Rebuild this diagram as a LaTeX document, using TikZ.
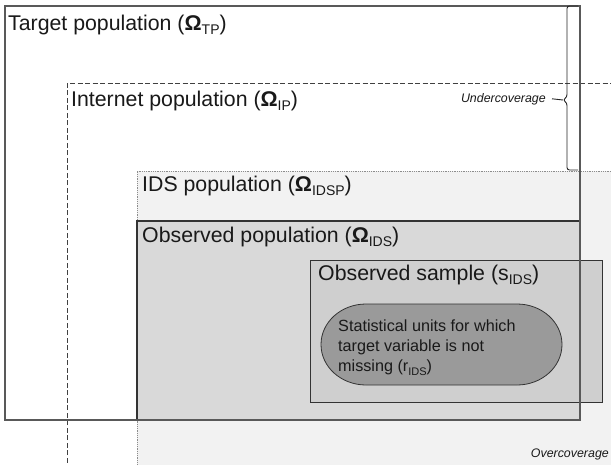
\documentclass[tikz,border=0pt]{standalone}
\usepackage{fontspec}
\setmainfont{Liberation Sans}
\definecolor{idsfill}{HTML}{F2F2F2}
\definecolor{popfill}{HTML}{D9D9D9}
\definecolor{samplefill}{HTML}{CFCFCF}
\definecolor{unitfill}{HTML}{9A9A9A}
\newcommand{\lowsub}[1]{\raisebox{-4.5pt}{\fontsize{14}{15}\selectfont #1}}
\newcommand{\smallsub}[1]{\raisebox{-3.5pt}{\fontsize{11}{12}\selectfont #1}}
\begin{document}
\begin{tikzpicture}[x=1pt,y=-1pt,
  lbl/.style={font=\fontsize{21.3}{25}\selectfont, anchor=base west, inner sep=0pt, text=black!90},
  note/.style={font=\fontsize{12.4}{14}\selectfont\itshape, inner sep=0pt, anchor=base east, text=black!90},
  targetline/.style={draw=black!65, line width=1.3pt},
  internetline/.style={draw=black!75, line width=0.9pt, dash pattern=on 5pt off 2.5pt},
  idsline/.style={draw=black!45, line width=0.8pt, dash pattern=on 0.9pt off 0.9pt},
  popbox/.style={fill=popfill, draw=black!80, line width=1.1pt},
  samplebox/.style={fill=samplefill, draw=black!80, line width=0.8pt},
  unitbox/.style={fill=unitfill, draw=black!80, line width=0.8pt},
  bracestyle/.style={draw=black!85, line width=0.9pt, rounded corners=2.5pt}
]
\clip (0,0) rectangle (611,464);
\fill[white] (0,0) rectangle (611,464);
% IDS population (extends beyond the picture)
\fill[idsfill] (137,171) rectangle (620,470);
\draw[idsline] (137,470) -- (137,171) -- (620,171);
% Observed population
\draw[popbox] (137,221) rectangle (580,420);
% Observed sample
\draw[samplebox] (310,260) rectangle (602,402);
% Units with non-missing target variable
\draw[unitbox] (366,304) -- (517,304) arc[start angle=-90, end angle=90, x radius=45, y radius=40.5]
  -- (366,385) arc[start angle=90, end angle=270, x radius=45, y radius=40.5] -- cycle;
% Internet population (extends beyond the picture)
\draw[internetline] (67,470) -- (67,83) -- (620,83);
% Target population
\draw[targetline] (5,6) rectangle (580,420);
% Brace
\draw[bracestyle] (578,6) -- (567,6) -- (567,97) -- (563,100) -- (567,103) -- (567,170) -- (578,170);
\coordinate (tip) at (563,100);
% Labels
\node[lbl] (tp) at (8,30) {Target population (\textbf{Ω}\lowsub{TP})};
\node[lbl] (ip) at (71,106) {Internet population (\textbf{Ω}\lowsub{IP})};
\node[lbl] (idsp) at (142,191) {IDS population (\textbf{Ω}\lowsub{IDSP})};
\node[lbl] (op) at (142,242) {Observed population (\textbf{Ω}\lowsub{IDS})};
\node[lbl] (os) at (318,280) {Observed sample (s\lowsub{IDS})};
\node[font=\fontsize{16.2}{19.8}\selectfont, anchor=north west, inner sep=0pt, align=left, text=black!90] (units) at (338,320)
  {Statistical units for which\\target variable is not\\missing (r\smallsub{IDS})};
\node[note] (under) at (546,102) {Undercoverage};
\node[note] (over) at (609,457) {Overcoverage};
\draw[black!85, line width=0.9pt] ([xshift=6pt]under.east) -- (tip);
\end{tikzpicture}
\end{document}
